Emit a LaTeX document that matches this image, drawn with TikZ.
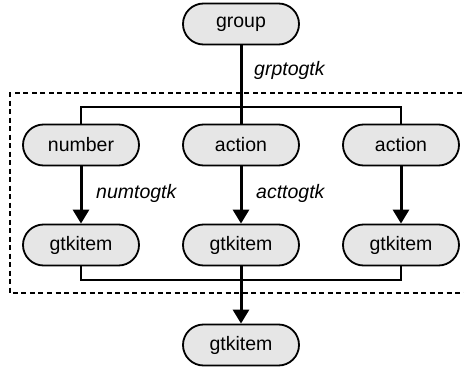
\documentclass[tikz,border=0pt]{standalone}
\usepackage{fontspec}
\setmainfont{Liberation Sans}
\usetikzlibrary{shapes.misc,arrows.meta}
\definecolor{boxfill}{RGB}{230,230,230}
\tikzset{
  term/.style={rounded rectangle, draw=black, line width=1.8pt, fill=boxfill,
    minimum width=116pt, minimum height=41pt, inner sep=0pt,
    font=\fontsize{19.5}{22}\selectfont},
  lbl/.style={anchor=west, inner sep=0pt, font=\fontsize{19.5}{22}\selectfont\itshape},
  thin/.style={line width=1.6pt},
  thick/.style={line width=3pt},
  arr/.style={thick, -{Triangle[length=14pt,width=16pt]}},
  frame/.style={line width=2.3pt, dash pattern=on 5pt off 3.5pt}
}
\begin{document}
\begin{tikzpicture}[x=1pt,y=-1pt]
\useasboundingbox (0,0) rectangle (464,367);
\node[term] (group) at (241,24) {group};
\node[term] (number) at (81,145) {number};
\node[term] (act1) at (241,145) {action};
\node[term] (act2) at (401,145) {action};
\node[term] (gtk1) at (81,245) {gtkitem};
\node[term] (gtk2) at (241,245) {gtkitem};
\node[term] (gtk3) at (401,245) {gtkitem};
\node[term] (gtk4) at (241,345) {gtkitem};
\coordinate (tl) at (81,107);
\coordinate (tr) at (401,107);
\coordinate (bl) at (81,280);
\coordinate (br) at (401,280);
\draw[frame] (470,93) -- (10,93) -- (10,293) -- (470,293);
\draw[thin] (number.north) -- (tl) -- (tr) -- (act2.north);
\draw[thick] (group.south) -- (act1.north);
\draw[thin] (gtk1.south) -- (bl) -- (br) -- (gtk3.south);
\draw[arr] (gtk2.south) -- (gtk4.north);
\draw[arr] (number.south) -- (gtk1.north);
\draw[arr] (act1.south) -- (gtk2.north);
\draw[arr] (act2.south) -- (gtk3.north);
\node[lbl] (l1) at (254,70) {grptogtk};
\node[lbl] (l2) at (96,193) {numtogtk};
\node[lbl] (l3) at (256,193) {acttogtk};
\end{tikzpicture}
\end{document}
